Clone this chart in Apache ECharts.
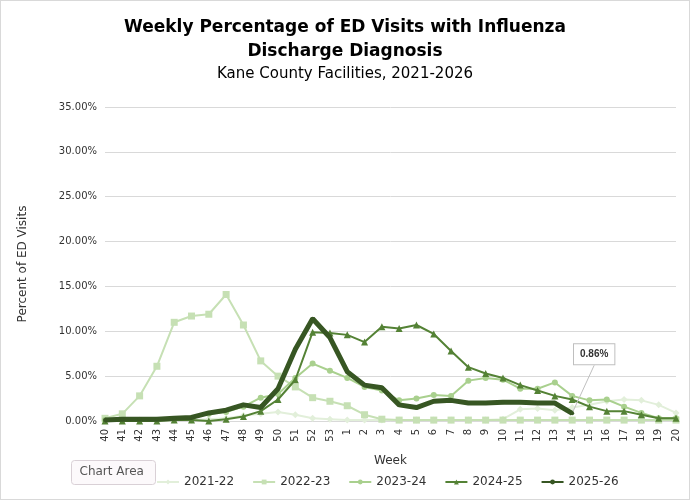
<!DOCTYPE html>
<html>
<head>
<meta charset="utf-8">
<script src="https://cdn.jsdelivr.net/npm/echarts@6/dist/echarts.min.js"></script>
<style>
  html, body { margin: 0; padding: 0; background: #fff; }
  #echarts { width: 688px; height: 498px; border: 1px solid #d9d9d9; }
</style>
</head>
<body>
<div id="echarts"></div>
<script>
// Semanas epidemiológicas
var weeks = ['40','41','42','43','44','45','46','47','48','49','50','51','52','53',
  '1','2','3','4','5','6','7','8','9','10','11','12','13','14','15','16','17','18','19','20'];

// Percentuais por temporada
var s2122 = [0.1,0.1,0.1,0.1,0.1,0.1,0.2,0.3,0.6,0.8,1.0,0.7,0.3,0.2,0.1,0.1,0.1,0.1,0.1,0.1,0.1,0.1,0.1,0.2,1.3,1.4,1.2,1.5,1.8,2.2,2.4,2.3,1.8,0.9];
var s2223 = [0.3,0.8,2.8,6.1,11.0,11.7,11.9,14.1,10.7,6.7,5.0,3.8,2.6,2.2,1.7,0.7,0.2,0.1,0.1,0.1,0.1,0.1,0.1,0.1,0.1,0.1,0.1,0.1,0.1,0.1,0.1,0.1,0.1,0.1];
var s2324 = [0.1,0.1,0.1,0.1,0.2,0.3,0.8,1.0,1.6,2.6,3.0,4.8,6.4,5.6,4.8,3.8,3.4,2.3,2.5,2.9,2.8,4.5,4.8,4.6,3.6,3.6,4.3,2.8,2.3,2.4,1.6,0.9,0.3,0.3];
var s2425 = [0.0,0.0,0.0,0.0,0.1,0.1,0.0,0.2,0.5,1.1,2.4,4.6,9.9,9.8,9.6,8.8,10.5,10.3,10.7,9.7,7.8,6.0,5.3,4.8,4.0,3.4,2.8,2.4,1.6,1.1,1.1,0.7,0.3,0.3];
var s2526 = [0.1,0.2,0.2,0.2,0.3,0.4,0.9,1.2,1.8,1.5,3.6,8.0,11.4,9.3,5.5,4.0,3.7,1.8,1.5,2.2,2.3,2.0,2.0,2.1,2.1,2.0,2.0,0.86];

var chart = echarts.init(document.getElementById('echarts'));

// Último ponto da temporada atual com rótulo destacado
var dadosAtual = s2526.map(function (v, i) {
    if (i === s2526.length - 1) {
        return {
            value: v,
            label: {
                show: true,
                formatter: function (p) { return p.value.toFixed(2) + '%'; },
                fontSize: 10, fontWeight: 'bold', color: '#333',
                backgroundColor: '#fff', borderColor: '#bfbfbf', borderWidth: 1,
                padding: [5, 6]
            },
            labelLine: { show: true, lineStyle: { color: '#bfbfbf', width: 1 } }
        };
    }
    return v;
});

function serie(nome, dados, cor, simbolo, tam, largura, z) {
    return {
        name: nome, type: 'line', data: dados, symbol: simbolo, symbolSize: tam,
        z: z, itemStyle: { color: cor }, lineStyle: { color: cor, width: largura }
    };
}

var ultima = serie('2025-26', dadosAtual, '#375623', 'circle', 4, 5, 10);
ultima.labelLayout = { dx: 22, dy: -42 };

var options = {
    animation: false,
    title: [
        { text: 'Weekly Percentage of ED Visits with Influenza\nDischarge Diagnosis', left: 'center', top: 10,
          textStyle: { fontFamily: 'DejaVu Sans', fontSize: 17, fontWeight: 'bold', color: '#000', lineHeight: 24 } },
        { text: 'Kane County Facilities, 2021-2026', left: 'center', top: 61,
          textStyle: { fontFamily: 'DejaVu Sans', fontSize: 15, fontWeight: 'normal', color: '#000' } }
    ],
    legend: {
        bottom: 6, left: 150, itemWidth: 22, itemHeight: 6, itemGap: 18,
        textStyle: { fontFamily: 'DejaVu Sans', fontSize: 12, color: '#333' },
        data: ['2021-22', '2022-23', '2023-24', '2024-25', '2025-26']
    },
    grid: { left: 104, right: 13, top: 106, bottom: 78 },
    xAxis: {
        type: 'category', data: weeks, boundaryGap: false,
        name: 'Week', nameLocation: 'middle', nameGap: 34,
        nameTextStyle: { fontFamily: 'DejaVu Sans', fontSize: 12, color: '#333' },
        axisLine: { lineStyle: { color: '#d9d9d9' } }, axisTick: { show: false },
        axisLabel: { rotate: 90, interval: 0, fontFamily: 'DejaVu Sans', fontSize: 10, color: '#333' }
    },
    yAxis: {
        type: 'value', min: 0, max: 35, interval: 5,
        name: 'Percent of ED Visits', nameLocation: 'middle', nameGap: 76,
        nameTextStyle: { fontFamily: 'DejaVu Sans', fontSize: 12, color: '#333' },
        splitLine: { lineStyle: { color: '#d9d9d9' } },
        axisLabel: { formatter: function (v) { return v.toFixed(2) + '%'; }, fontFamily: 'DejaVu Sans', fontSize: 10, color: '#333' }
    },
    graphic: [{
        type: 'group', left: 70, bottom: 14,
        children: [
            { type: 'rect', shape: { width: 84, height: 24, r: 3 }, style: { fill: '#fcf9fb', stroke: '#d9d0d6' } },
            { type: 'text', x: 8, y: 5, style: { text: 'Chart Area', fontFamily: 'DejaVu Sans', fontSize: 12, fill: '#555' } }
        ]
    }],
    series: [
        serie('2021-22', s2122, '#e2efda', 'diamond', 7, 2, 2),
        serie('2022-23', s2223, '#c6e0b4', 'rect', 7, 2, 3),
        serie('2023-24', s2324, '#a9d08e', 'circle', 6, 2, 4),
        serie('2024-25', s2425, '#548235', 'triangle', 7, 2, 5),
        ultima
    ]
};

chart.setOption(options);
</script>
</body>
</html>
